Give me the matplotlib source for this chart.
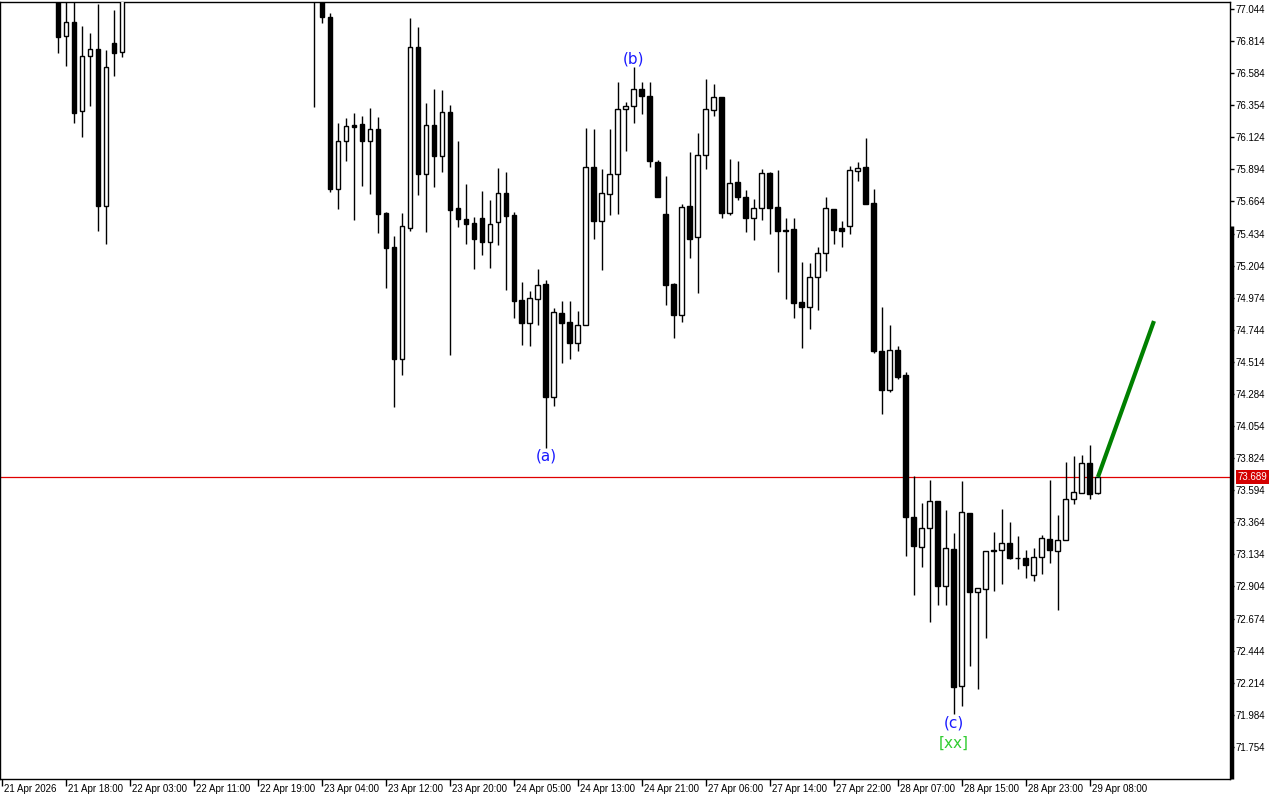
import numpy as np
import matplotlib.pyplot as plt
from matplotlib.transforms import blended_transform_factory, ScaledTranslation

plt.rcParams['font.family'] = ['Liberation Sans', 'DejaVu Sans']

# H1 bars, index 0 = 21 Apr 2026 10:00 (bars 0-6 and 16-39 sit above the visible range)
opens = [77.42, 77.51, 77.47, 77.38, 77.45, 77.56, 77.41, 77.32,
         76.850, 76.951, 76.313, 76.707, 76.757, 75.632, 76.800, 76.736,
         77.25, 77.41, 77.55, 77.49, 77.61, 77.78, 77.70, 77.58,
         77.69, 77.83, 77.76, 77.64, 77.52, 77.63, 77.58, 77.46,
         77.54, 77.66, 77.57, 77.45, 77.38, 77.44, 77.31, 77.24,
         77.16, 76.987, 75.754, 76.098, 76.212, 76.220, 76.098, 76.184,
         75.582, 75.338, 74.535, 75.474, 76.772, 75.861, 76.212, 75.990,
         76.306, 75.617, 75.539, 75.510, 75.546, 75.374, 75.517, 75.725,
         75.567, 74.958, 74.793, 74.965, 75.073, 74.263, 74.865, 74.800,
         74.650, 74.779, 75.911, 75.524, 75.718, 75.861, 76.327, 76.349,
         76.471, 76.420, 75.947, 75.574, 75.073, 74.850, 75.632, 75.410,
         75.997, 76.320, 76.413, 75.582, 75.804, 75.696, 75.546, 75.617,
         75.868, 75.625, 75.460, 75.467, 74.944, 74.908, 75.123, 75.295,
         75.610, 75.474, 75.488, 75.883, 75.911, 75.653, 74.592, 74.313,
         74.600, 74.420, 73.402, 73.187, 73.324, 73.517, 72.908, 73.173,
         72.191, 73.431, 72.865, 72.886, 73.158, 73.166, 73.216, 73.108,
         73.108, 72.987, 73.116, 73.245, 73.158, 73.238, 73.531, 73.574,
         73.789, 73.574]

highs = [77.58, 77.66, 77.55, 77.49, 77.60, 77.63, 77.50, 77.40,
         77.18, 77.15, 76.922, 76.872, 77.080, 76.750, 77.037, 77.40,
         77.48, 77.62, 77.70, 77.66, 77.85, 77.92, 77.80, 77.74,
         77.88, 77.95, 77.84, 77.71, 77.68, 77.77, 77.65, 77.59,
         77.70, 77.75, 77.62, 77.53, 77.49, 77.51, 77.42, 77.35,
         77.30, 77.015, 76.227, 76.263, 76.298, 76.277, 76.334, 76.270,
         75.589, 75.417, 75.582, 76.980, 76.915, 76.370, 76.471, 76.463,
         76.356, 76.098, 75.790, 75.553, 75.739, 75.675, 75.904, 75.875,
         75.589, 75.087, 75.022, 75.180, 75.101, 74.901, 74.951, 74.951,
         74.879, 76.191, 76.184, 75.897, 76.184, 76.521, 76.377, 76.628,
         76.521, 76.521, 75.961, 75.847, 75.080, 75.646, 76.019, 76.155,
         76.542, 76.506, 76.413, 75.969, 75.954, 75.746, 75.682, 75.897,
         75.875, 75.890, 75.546, 75.546, 75.230, 75.223, 75.338, 75.696,
         75.610, 75.524, 75.919, 75.947, 76.119, 75.754, 74.908, 74.779,
         74.628, 74.442, 73.696, 73.503, 73.668, 73.517, 73.453, 73.288,
         73.661, 73.431, 72.893, 73.158, 73.295, 73.460, 73.367, 73.266,
         73.166, 73.180, 73.273, 73.668, 73.417, 73.797, 73.840, 73.847,
         73.918, 73.689]

lows = [77.35, 77.44, 77.33, 77.29, 77.40, 77.37, 77.26, 76.729,
        76.635, 76.227, 76.126, 76.349, 75.453, 75.359, 76.564, 76.700,
        77.19, 77.35, 77.44, 77.40, 77.55, 77.66, 77.52, 77.50,
        77.63, 77.71, 77.60, 77.45, 77.47, 77.55, 77.40, 77.38,
        77.49, 77.52, 77.41, 77.33, 77.30, 77.27, 77.19, 76.341,
        76.944, 75.732, 75.610, 75.954, 75.531, 75.775, 75.718, 75.438,
        75.044, 74.191, 74.420, 75.453, 75.711, 75.445, 75.768, 75.876,
        74.564, 75.481, 75.359, 75.180, 75.280, 75.187, 75.352, 75.030,
        74.829, 74.635, 74.628, 74.779, 73.897, 74.198, 74.506, 74.535,
        74.592, 74.779, 75.395, 75.173, 75.567, 75.574, 76.026, 76.227,
        76.291, 75.911, 75.696, 74.922, 74.686, 74.800, 75.259, 75.008,
        75.897, 76.277, 75.546, 75.567, 75.675, 75.445, 75.388, 75.531,
        75.431, 75.159, 74.965, 74.829, 74.614, 74.750, 74.886, 75.166,
        75.359, 75.338, 75.431, 75.811, 75.646, 74.578, 74.141, 74.298,
        74.392, 73.123, 72.843, 73.044, 72.650, 72.772, 72.772, 71.990,
        72.047, 72.334, 72.170, 72.535, 72.872, 72.922, 73.101, 73.030,
        72.965, 72.944, 72.994, 73.073, 72.736, 73.238, 73.496, 73.574,
        73.531, 73.567]

closes = [77.51, 77.47, 77.38, 77.45, 77.56, 77.41, 77.32, 76.843,
          76.951, 76.298, 76.707, 76.757, 75.632, 76.628, 76.729, 77.25,
          77.41, 77.55, 77.49, 77.61, 77.78, 77.70, 77.58, 77.69,
          77.83, 77.76, 77.64, 77.52, 77.63, 77.58, 77.46, 77.54,
          77.66, 77.57, 77.45, 77.38, 77.44, 77.31, 77.24, 77.16,
          76.987, 75.754, 76.098, 76.205, 76.198, 76.098, 76.184, 75.574,
          75.331, 74.535, 75.488, 76.772, 75.861, 76.212, 75.990, 76.306,
          75.603, 75.539, 75.503, 75.395, 75.374, 75.503, 75.725, 75.560,
          74.951, 74.793, 74.972, 75.065, 74.263, 74.872, 74.793, 74.650,
          74.779, 75.911, 75.524, 75.725, 75.861, 76.327, 76.349, 76.471,
          76.420, 75.954, 75.696, 75.065, 74.850, 75.625, 75.395, 75.997,
          76.327, 76.413, 75.582, 75.797, 75.696, 75.546, 75.617, 75.868,
          75.617, 75.453, 75.453, 74.936, 74.908, 75.123, 75.295, 75.617,
          75.460, 75.453, 75.890, 75.904, 75.646, 74.592, 74.313, 74.600,
          74.406, 73.402, 73.195, 73.324, 73.517, 72.908, 73.180, 72.184,
          73.438, 72.865, 72.893, 73.158, 73.166, 73.216, 73.108, 73.105,
          73.058, 73.116, 73.252, 73.166, 73.238, 73.531, 73.582, 73.789,
          73.567, 73.689]

time_labels = ['21 Apr 2026', '21 Apr 18:00', '22 Apr 03:00', '22 Apr 11:00',
               '22 Apr 19:00', '23 Apr 04:00', '23 Apr 12:00', '23 Apr 20:00',
               '24 Apr 05:00', '24 Apr 13:00', '24 Apr 21:00', '27 Apr 06:00',
               '27 Apr 14:00', '27 Apr 22:00', '28 Apr 07:00', '28 Apr 15:00',
               '28 Apr 23:00', '29 Apr 08:00']
price_ticks = [77.044, 76.814, 76.584, 76.354, 76.124, 75.894, 75.664, 75.434,
               75.204, 74.974, 74.744, 74.514, 74.284, 74.054, 73.824, 73.594,
               73.364, 73.134, 72.904, 72.674, 72.444, 72.214, 71.984, 71.754]

last_price = 73.689
target_x = [137, 144]
target_y = [73.689, 74.807]

# wave marks: (bar, price, text)
wave_labels = [(68, 73.84, '(a)'), (79, 76.685, '(b)'), (119, 71.926, '(c)')]
xx_label = (119, 71.782, '[xx]')

o = np.array(opens)
h = np.array(highs)
l = np.array(lows)
c = np.array(closes)
x = np.arange(len(o))

fig = plt.figure(figsize=(12.8, 8), dpi=100)
ax = fig.add_axes([0.0, 0.02625, 0.9609, 0.97125])

ax.vlines(x, l, h, color='black', lw=1, zorder=2)
up = c >= o
body_bottom = np.minimum(o, c)
body_h = np.maximum(np.abs(c - o), 0.003)
ax.bar(x, body_h, bottom=body_bottom, width=0.62,
       color=np.where(up, 'white', 'black'), edgecolor='black', linewidth=1, zorder=3)

ax.axhline(last_price, color='#e00000', lw=0.9, zorder=1)
ax.plot(target_x, target_y, color='#008000', lw=3, zorder=4, solid_capstyle='butt')

for bx, py, t in wave_labels:
    ax.text(bx, py, t, color='#1a1aff', fontsize=11, ha='center', va='center',
            family=['DejaVu Sans'])
ax.text(xx_label[0], xx_label[1], xx_label[2], color='#32cd32', fontsize=11,
        ha='center', va='center', family=['DejaVu Sans'])

ax.set_xlim(-0.25, 153.5)
ax.set_ylim(71.524, 77.094)

# right price scale
ax.yaxis.tick_right()
ax.set_yticks(price_ticks)
ax.set_yticklabels(['%.3f' % p for p in price_ticks])
ax.tick_params(axis='y', direction='out', length=3, width=1, labelsize=7, pad=1)

ax.set_xticks(np.arange(len(time_labels)) * 8)
ax.set_xticklabels(time_labels)
ax.tick_params(axis='x', direction='out', length=5, width=1, labelsize=7, pad=-1.5)
shift = ScaledTranslation(2 / 100, 0, fig.dpi_scale_trans)
for lbl in ax.get_xticklabels():
    lbl.set_horizontalalignment('left')
    lbl.set_transform(lbl.get_transform() + shift)

for s in ax.spines.values():
    s.set_linewidth(1)
    s.set_color('black')

# thick bar on the price scale
tr = blended_transform_factory(ax.transAxes, ax.transData)
ax.plot([1.0015, 1.0015], [75.488, 71.524], color='black', lw=2.5,
        transform=tr, clip_on=False, solid_capstyle='butt')

# current price tag
ax.text(1.006, last_price, '%.3f' % last_price, transform=tr, fontsize=7,
        color='white', va='center', ha='left',
        bbox=dict(facecolor='#d40000', edgecolor='none', pad=1.2))

fig.savefig('out.png', dpi=100)
